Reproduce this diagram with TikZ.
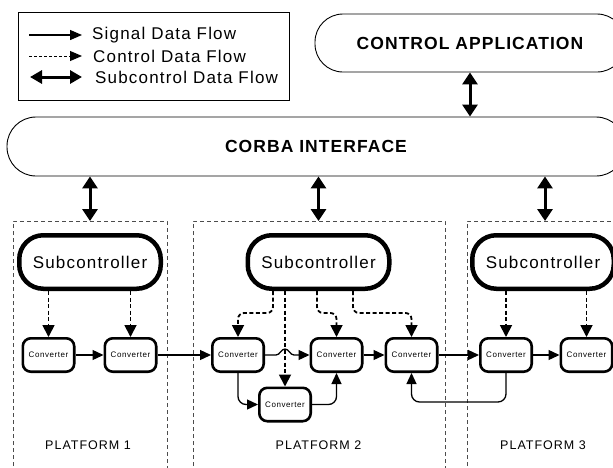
\documentclass[tikz,border=0pt]{standalone}
\usepackage{fontspec}
\setmainfont{Liberation Sans}
\newfontfamily\lsp{Liberation Sans}[LetterSpace=7]
\newfontfamily\lspb{Liberation Sans}[LetterSpace=6]
\newfontfamily\lspw{Liberation Sans}[LetterSpace=8]
\usetikzlibrary{arrows.meta}

\tikzset{
  stadium/.style={draw, line width=0.9pt, rounded corners=28pt, inner sep=0pt,
    font=\lspb\bfseries\fontsize{17.5}{20}\selectfont},
  subbox/.style={draw, line width=4.5pt, rounded corners=24pt, minimum width=141.5pt,
    minimum height=53.5pt, inner sep=0pt, font=\lsp\fontsize{17}{20}\selectfont},
  convbox/.style={draw, line width=2.6pt, rounded corners=8pt, minimum width=51.4pt,
    minimum height=33.4pt, inner sep=0pt, font=\lsp\fontsize{8}{10}\selectfont},
  platform/.style={draw=black!70, line width=0.9pt, dash pattern=on 4pt off 3pt},
  platlabel/.style={font=\lspw\fontsize{12.5}{15}\selectfont},
  legendtext/.style={anchor=west, inner sep=0pt, font=\lsp\fontsize{17}{20}\selectfont},
  sigflow/.style={line width=1.3pt, -{Triangle[length=11pt,width=10pt]}},
  ctlflow/.style={line width=1.8pt, dash pattern=on 4pt off 2.5pt, -{Triangle[length=12pt,width=12pt]}},
  subflow/.style={line width=3pt, {Triangle[length=12pt,width=15pt]}-{Triangle[length=12pt,width=15pt]}},
}

\begin{document}
\begin{tikzpicture}[x=1pt, y=-1pt]
\useasboundingbox (0,0) rectangle (613,467);

% legend
\draw[line width=0.9pt] (18,12) rectangle (289,100);
\coordinate (l1a) at (29,35);  \coordinate (l1b) at (82,35);
\coordinate (l2a) at (29,56);  \coordinate (l2b) at (82,56);
\coordinate (l3a) at (30,77);  \coordinate (l3b) at (82,77);
\draw[line width=1.3pt, -{Triangle[length=12pt,width=10pt]}] (l1a) -- (l1b);
\draw[line width=1pt, dash pattern=on 3pt off 2pt, -{Triangle[length=12pt,width=10pt]}] (l2a) -- (l2b);
\draw[line width=3pt, {Triangle[length=12pt,width=13pt]}-{Triangle[length=12pt,width=13pt]}] (l3a) -- (l3b);
\node[legendtext] (t1) at (92,35) {Signal Data Flow};
\node[legendtext] (t2) at (93,56) {Control Data Flow};
\node[legendtext] (t3) at (95,77) {Subcontrol Data Flow};

% application and middleware layer
\node[stadium, minimum width=310pt, minimum height=58pt] (app) at (470,43) {CONTROL APPLICATION};
\node[stadium, minimum width=618pt, minimum height=59pt, rounded corners=29pt] (corba) at (316,146.5) {CORBA INTERFACE};
\draw[subflow] (app.south) -- (corba.north -| app.south);

% platform frames
\draw[platform] (13,480) |- (167,221) -- (167,480);
\draw[platform] (193,480) |- (445,221) -- (445,480);
\draw[platform] (467,480) |- (630,221);
\node[platlabel] (pl1) at (88,445) {PLATFORM 1};
\node[platlabel] (pl2) at (318.5,445) {PLATFORM 2};
\node[platlabel] (pl3) at (543,445) {PLATFORM 3};

% subcontrollers
\node[subbox] (s1) at (90,262) {Subcontroller};
\node[subbox] (s2) at (318.5,262) {Subcontroller};
\node[subbox] (s3) at (543,262) {Subcontroller};

\coordinate (p1top) at (90,221);
\coordinate (p2top) at (318.5,221);
\coordinate (p3top) at (545,221);
\draw[subflow] (corba.south -| p1top) -- (p1top);
\draw[subflow] (corba.south -| p2top) -- (p2top);
\draw[subflow] (corba.south -| p3top) -- (p3top);

% converters
\node[convbox] (c1a) at (48.5,355) {Converter};
\node[convbox] (c1b) at (130.5,355) {Converter};
\node[convbox] (c2a) at (238,355) {Converter};
\node[convbox] (c2b) at (336.5,355) {Converter};
\node[convbox] (c2c) at (411.5,355) {Converter};
\node[convbox] (c2d) at (285,404.5) {Converter};
\node[convbox] (c3a) at (506,355) {Converter};
\node[convbox] (c3b) at (586.5,355) {Converter};

% control flow
\draw[ctlflow] (s1.south -| c1a) -- (c1a.north);
\draw[ctlflow] (s1.south -| c1b) -- (c1b.north);
\draw[ctlflow] (s3.south -| c3a) -- (c3a.north);
\draw[ctlflow] (s3.south -| c3b) -- (c3b.north);
\draw[ctlflow, rounded corners=6pt] ([xshift=-45.5pt]s2.south) -- ++(0,22) -| (c2a.north);
\draw[ctlflow] ([xshift=-33.5pt]s2.south) -- (c2d.north);
\draw[ctlflow, rounded corners=6pt] ([xshift=-1.5pt]s2.south) -- ++(0,22) -| (c2b.north);
\draw[ctlflow, rounded corners=6pt] ([xshift=34.5pt]s2.south) -- ++(0,22) -| (c2c.north);

% signal flow
\draw[sigflow] (c1a) -- (c1b);
\draw[sigflow] (c1b) -- (c2a);
\draw[sigflow] (c2a.east) -- (276,355) .. controls (280,355) and (281,349) .. (285,349)
  .. controls (289,349) and (290,355) .. (294,355) -- (c2b.west);
\draw[sigflow, rounded corners=8pt] (c2a.south) |- (c2d.west);
\draw[sigflow, rounded corners=8pt] (c2d.east) -| (c2b.south);
\draw[sigflow] (c2b) -- (c2c);
\draw[sigflow] (c2c) -- (c3a);
\draw[sigflow] (c3a) -- (c3b);
\coordinate (fb) at (411.5,402);
\draw[sigflow, rounded corners=8pt] (c3a.south) |- (fb) -- (c2c.south);
\end{tikzpicture}
\end{document}
